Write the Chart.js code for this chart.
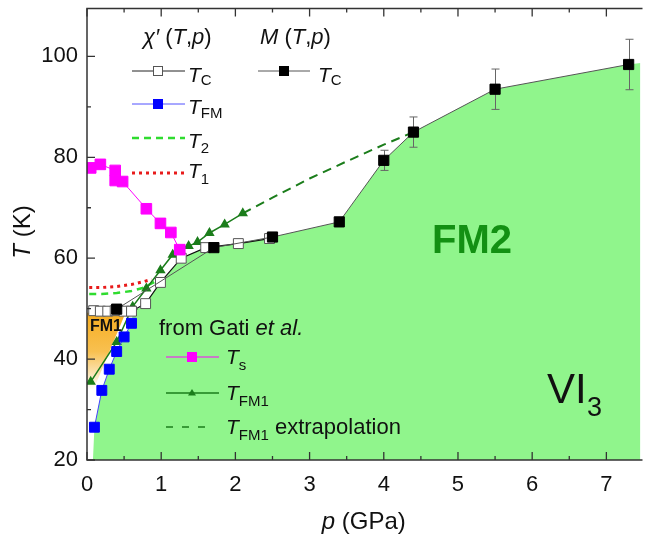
<!DOCTYPE html>
<html>
<head>
<meta charset="utf-8">
<script src="https://cdn.jsdelivr.net/npm/chart.js@4.4.0/dist/chart.umd.min.js"></script>
<style>
html, body { margin: 0; padding: 0; background: #fff; }
#wrap { width: 649px; height: 540px; }
</style>
</head>
<body>
<div id="wrap"><canvas id="c"></canvas></div>
<script>
const FONT = '"Liberation Sans", Arial, Helvetica, sans-serif';

// chi'(T,p): T_C (open squares)
const tcP = [0.09, 0.18, 0.28, 0.38, 0.50, 0.60, 0.79, 0.99, 1.27, 1.60, 2.04, 2.46];
const tcT = [49.6, 49.5, 49.5, 49.6, 49.5, 49.5, 51.0, 55.2, 60.0, 62.1, 62.9, 63.9];
// chi'(T,p): T_FM (blue squares)
const tfmP = [0.10, 0.20, 0.30, 0.40, 0.50, 0.60];
const tfmT = [26.5, 33.8, 38.0, 41.5, 44.4, 47.1];
// T_2 (green dashed) and T_1 (red dotted)
const t2P = [0.03, 0.20, 0.40, 0.60, 0.75, 0.95];
const t2T = [52.9, 52.9, 53.1, 53.5, 54.1, 55.6];
const t1P = [0.03, 0.20, 0.40, 0.60, 0.75, 0.87];
const t1T = [54.2, 54.2, 54.4, 54.8, 55.3, 55.8];
// M(T,p): T_C (black squares with error bars)
const mP = [0.40, 1.71, 2.50, 3.40, 4.00, 4.40, 5.50, 7.30];
const mT = [49.9, 62.1, 64.2, 67.2, 79.4, 85.0, 93.5, 98.4];
const mErr = [0, 0, 0.6, 0, 2.0, 3.0, 4.0, 5.0];
// Gati et al.: T_s (magenta)
const tsP = [0.05, 0.18, 0.38, 0.38, 0.48, 0.80, 0.99, 1.13, 1.25];
const tsT = [77.9, 78.6, 77.4, 75.4, 75.2, 69.8, 66.9, 65.1, 61.7];
// Gati et al.: T_FM1 (triangles) and extrapolation
const fm1lineP = [0.05, 0.40, 0.615, 0.80, 0.99, 1.155, 1.37, 1.49, 1.65, 1.855, 2.10];
const fm1lineT = [35.5, 43.4, 50.4, 54.0, 57.6, 60.7, 62.4, 63.2, 65.0, 66.7, 68.9];
const extP = [2.10, 2.50, 3.00, 3.50, 4.00, 4.40];
const extT = [68.9, 72.0, 75.8, 79.2, 82.5, 85.0];
// FM2 region (upper boundary, filled down to the axis)
const fm2P = [0.08, 0.10, 0.20, 0.30, 0.40, 0.50, 0.60, 0.62, 0.79, 0.99, 1.27, 1.60, 1.71, 2.50, 3.40, 4.00, 4.40, 5.50, 7.30, 7.46];
const fm2T = [20, 26.5, 33.8, 38.0, 41.5, 44.4, 47.1, 49.4, 51.0, 55.2, 60.0, 62.1, 62.1, 64.2, 67.2, 79.4, 85.0, 93.5, 98.4, 98.7];
// FM1 region (corners)
const fm1P = [0.0, 0.52, 0.09, 0.0];
const fm1T = [49.2, 49.2, 34.0, 34.0];

const xTicks = [0, 1, 2, 3, 4, 5, 6, 7];
const yTicks = [20, 40, 60, 80, 100];

const pts = (xs, ys) => xs.map((x, i) => ({x: x, y: ys[i]}));

const line = (xs, ys, o) => Object.assign({
    data: pts(xs, ys),
    showLine: true,
    fill: false,
    pointRadius: 0,
    borderWidth: 1
}, o);

const datasets = [
    line(fm2P, fm2T, {fill: 'start', backgroundColor: '#90f58c', borderWidth: 0, borderColor: 'rgba(0,0,0,0)', order: 10}),
    line(t2P, t2T, {borderColor: '#2fdc2f', borderWidth: 2.5, borderDash: [7, 5], order: 6}),
    line(t1P, t1T, {borderColor: '#e81b1b', borderWidth: 3, borderDash: [3, 4], order: 6}),
    line(extP, extT, {borderColor: '#1b7d1b', borderWidth: 2, borderDash: [9, 6], order: 5}),
    line(fm1lineP, fm1lineT, {borderColor: '#1b7d1b', borderWidth: 1.5, pointStyle: 'triangle', pointRadius: 4.5,
        pointBackgroundColor: '#1b7d1b', pointBorderColor: '#1b7d1b', order: 4}),
    line(mP, mT, {borderColor: '#555', borderWidth: 1, pointStyle: 'rect', pointRadius: 7.2,
        pointBackgroundColor: '#000', pointBorderColor: '#000', order: 3, isM: true}),
    line(tcP, tcT, {borderColor: '#111', borderWidth: 1.2, pointStyle: 'rect', pointRadius: 7,
        pointBackgroundColor: '#fff', pointBorderColor: '#555', pointBorderWidth: 1, order: 3.5}),
    line(tsP, tsT, {borderColor: '#ff00ff', borderWidth: 1, pointStyle: 'rect', pointRadius: 7.5,
        pointBackgroundColor: '#ff00ff', pointBorderColor: '#ff00ff', order: 2}),
    line(tfmP, tfmT, {borderColor: '#4040ff', borderWidth: 1, pointStyle: 'rect', pointRadius: 7,
        pointBackgroundColor: '#0000ff', pointBorderColor: '#0000ff', order: 1})
];

// draw text made of styled runs: [text, size, italic, bold, dy]
function runs(ctx, x, y, parts, color) {
    ctx.fillStyle = color || '#111';
    for (const p of parts) {
        ctx.font = (p[2] ? 'italic ' : '') + (p[3] ? 'bold ' : '') + p[1] + 'px ' + FONT;
        ctx.fillText(p[0], x, y + (p[4] || 0));
        x += ctx.measureText(p[0]).width;
    }
    return x;
}

function runsWidth(ctx, parts) {
    let w = 0;
    for (const p of parts) {
        ctx.font = (p[2] ? 'italic ' : '') + (p[3] ? 'bold ' : '') + p[1] + 'px ' + FONT;
        w += ctx.measureText(p[0]).width;
    }
    return w;
}

function square(ctx, x, y, s, fill, stroke) {
    ctx.fillStyle = fill;
    ctx.fillRect(x - s / 2, y - s / 2, s, s);
    if (stroke) {
        ctx.strokeStyle = stroke;
        ctx.lineWidth = 1;
        ctx.strokeRect(x - s / 2 + 0.5, y - s / 2 + 0.5, s - 1, s - 1);
    }
}

function hline(ctx, x1, x2, y, color, w, dash) {
    ctx.save();
    ctx.strokeStyle = color;
    ctx.lineWidth = w;
    ctx.setLineDash(dash || []);
    ctx.beginPath();
    ctx.moveTo(x1, y);
    ctx.lineTo(x2, y);
    ctx.stroke();
    ctx.restore();
}

const decor = {
    id: 'decor',
    beforeDatasetsDraw(chart) {
        const {ctx, chartArea: a, scales: {x, y}} = chart;
        ctx.save();
        ctx.beginPath();
        ctx.rect(a.left, a.top, a.right - a.left, a.bottom - a.top);
        ctx.clip();
        const g = ctx.createLinearGradient(0, y.getPixelForValue(49), 0, y.getPixelForValue(34));
        g.addColorStop(0, '#f6ad22');
        g.addColorStop(0.5, '#f8c050');
        g.addColorStop(1, '#ffffff');
        ctx.fillStyle = g;
        ctx.beginPath();
        fm1P.forEach((p, i) => {
            const px = x.getPixelForValue(p), py = y.getPixelForValue(fm1T[i]);
            if (i === 0) ctx.moveTo(px, py); else ctx.lineTo(px, py);
        });
        ctx.closePath();
        ctx.fill();
        ctx.restore();
    },
    beforeDatasetDraw(chart, args) {
        if (!chart.data.datasets[args.index].isM) return;
        const {ctx, scales: {x, y}} = chart;
        ctx.save();
        ctx.strokeStyle = '#666';
        ctx.lineWidth = 1;
        mP.forEach((p, i) => {
            if (!mErr[i]) return;
            const px = Math.round(x.getPixelForValue(p)) + 0.5;
            const y1 = y.getPixelForValue(mT[i] - mErr[i]);
            const y2 = y.getPixelForValue(mT[i] + mErr[i]);
            ctx.beginPath();
            ctx.moveTo(px, y1); ctx.lineTo(px, y2);
            ctx.moveTo(px - 4, y1); ctx.lineTo(px + 4, y1);
            ctx.moveTo(px - 4, y2); ctx.lineTo(px + 4, y2);
            ctx.stroke();
        });
        ctx.restore();
    },
    afterDraw(chart) {
        const {ctx, chartArea: a, scales: {x, y}} = chart;
        ctx.save();
        // frame
        ctx.strokeStyle = '#333';
        ctx.lineWidth = 1.5;
        ctx.beginPath();
        ctx.moveTo(a.right + 2, a.top);
        ctx.lineTo(a.left, a.top);
        ctx.lineTo(a.left, a.bottom);
        ctx.lineTo(a.right + 2, a.bottom);
        ctx.stroke();
        // inward ticks
        ctx.lineWidth = 1.3;
        ctx.beginPath();
        for (let v = 0; v <= x.max; v += 0.5) {
            const px = x.getPixelForValue(v);
            const len = Number.isInteger(v) ? 8 : 4;
            ctx.moveTo(px, a.bottom); ctx.lineTo(px, a.bottom - len);
            ctx.moveTo(px, a.top); ctx.lineTo(px, a.top + len);
        }
        for (let v = 20; v <= y.max; v += 10) {
            const py = y.getPixelForValue(v);
            const len = v % 20 === 0 ? 8 : 4;
            ctx.moveTo(a.left, py); ctx.lineTo(a.left + len, py);
        }
        ctx.stroke();

        // axis titles
        ctx.textBaseline = 'alphabetic';
        ctx.textAlign = 'left';
        const xt = [['p', 24, true], [' (GPa)', 24]];
        runs(ctx, (a.left + a.right) / 2 - runsWidth(ctx, xt) / 2, 529, xt);
        ctx.save();
        ctx.translate(30, 232);
        ctx.rotate(-Math.PI / 2);
        const yt = [['T', 24, true], [' (K)', 24]];
        runs(ctx, -runsWidth(ctx, yt) / 2, 0, yt);
        ctx.restore();

        // region labels
        runs(ctx, 90, 331, [['FM1', 16, false, true]]);
        runs(ctx, 432, 253, [['FM2', 40, false, true]], '#139013');
        runs(ctx, 547, 403, [['VI', 42]]);
        runs(ctx, 587, 416, [['3', 27]]);

        // legend: chi'(T,p) and M(T,p)
        runs(ctx, 143, 44, [['\u03C7\u2032', 22, true], [' (', 22], ['T', 22, true], [',', 22], ['p', 22, true], [')', 22]]);
        runs(ctx, 260, 44, [['M', 22, true], [' (', 22], ['T', 22, true], [',', 22], ['p', 22, true], [')', 22]]);

        hline(ctx, 132, 185, 71, '#222', 1);
        square(ctx, 158, 71, 10, '#fff', '#555');
        runs(ctx, 188, 82, [['T', 21, true], ['C', 15, false, false, 3]]);

        hline(ctx, 258, 310, 71, '#555', 1);
        square(ctx, 284, 71, 10, '#000');
        runs(ctx, 318, 82, [['T', 21, true], ['C', 15, false, false, 3]]);

        hline(ctx, 132, 185, 104, '#5050ff', 1);
        square(ctx, 158, 104, 10, '#0000ff');
        runs(ctx, 188, 114, [['T', 21, true], ['FM', 15, false, false, 4]]);

        hline(ctx, 132, 185, 138, '#2fdc2f', 2.5, [7, 5]);
        runs(ctx, 188, 148, [['T', 21, true], ['2', 15, false, false, 5]]);

        hline(ctx, 132, 185, 173, '#e81b1b', 3, [3, 4]);
        runs(ctx, 188, 178, [['T', 21, true], ['1', 15, false, false, 6]]);

        // legend: Gati et al.
        runs(ctx, 159, 335, [['from Gati ', 22], ['et al.', 22, true]]);

        hline(ctx, 166, 219, 357, '#ff00ff', 1);
        square(ctx, 192, 357, 10, '#ff00ff');
        runs(ctx, 226, 364, [['T', 21, true], ['s', 15, false, false, 6]]);

        hline(ctx, 166, 219, 393, '#1b7d1b', 1.5);
        ctx.fillStyle = '#1b7d1b';
        ctx.beginPath();
        ctx.moveTo(192, 389); ctx.lineTo(196, 395.5); ctx.lineTo(188, 395.5); ctx.closePath();
        ctx.fill();
        runs(ctx, 226, 400, [['T', 21, true], ['FM1', 15, false, false, 6]]);

        hline(ctx, 166, 212, 427, '#1b7d1b', 1.5, [7, 9]);
        runs(ctx, 226, 434, [['T', 21, true], ['FM1', 15, false, false, 6], [' extrapolation', 22]]);
        ctx.restore();
    }
};

new Chart(document.getElementById('c'), {
    type: 'scatter',
    data: {datasets: datasets},
    options: {
        responsive: true,
        maintainAspectRatio: false,
        animation: false,
        devicePixelRatio: 1,
        layout: {padding: {top: 7, right: 0, left: 0, bottom: 0}},
        plugins: {legend: {display: false}, tooltip: {enabled: false}},
        scales: {
            x: {
                type: 'linear',
                min: 0,
                max: 7.46,
                grid: {display: false, drawTicks: false},
                border: {display: false},
                afterBuildTicks: s => { s.ticks = xTicks.map(v => ({value: v})); },
                afterFit: s => { s.height = 80; s.paddingLeft = 0; s.paddingRight = 0; },
                ticks: {padding: 12, color: '#111', font: {size: 22, family: FONT}, maxRotation: 0}
            },
            y: {
                type: 'linear',
                min: 20,
                max: 109.5,
                grid: {display: false, drawTicks: false},
                border: {display: false},
                afterBuildTicks: s => { s.ticks = yTicks.map(v => ({value: v})); },
                afterFit: s => { s.width = 87; s.paddingTop = 0; s.paddingBottom = 0; },
                ticks: {padding: 9, color: '#111', font: {size: 22, family: FONT}}
            }
        }
    },
    plugins: [decor]
});
</script>
</body>
</html>
